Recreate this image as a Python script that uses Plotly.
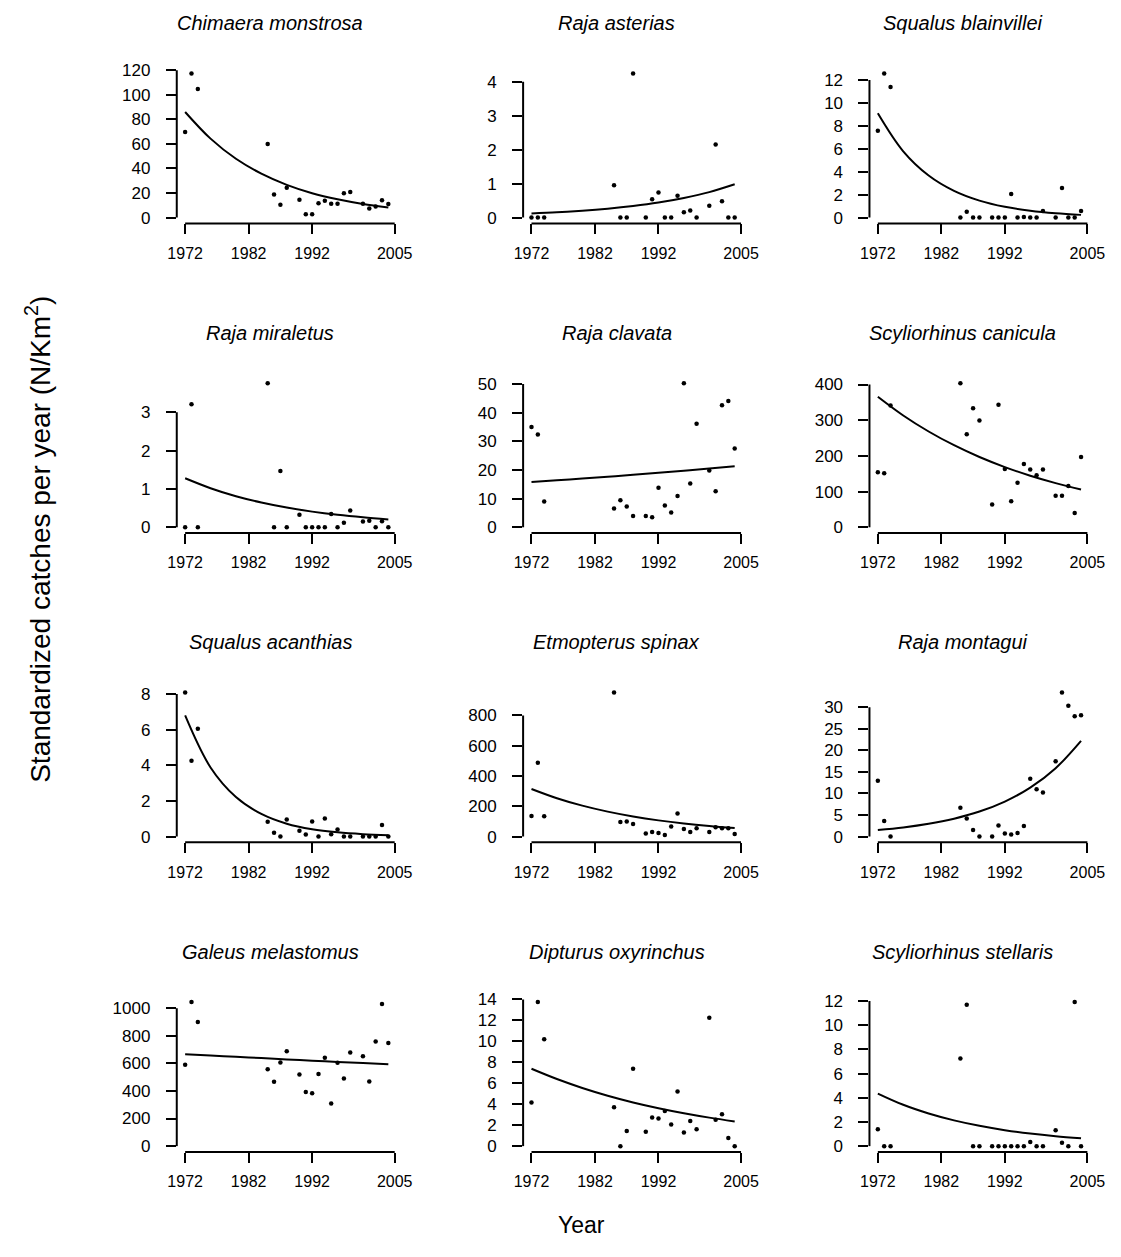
import plotly.graph_objects as go

# Survey years sampled (same for every species)
years = [1972, 1973, 1974, 1985, 1986, 1987, 1988, 1990, 1991, 1992, 1993,
         1994, 1995, 1996, 1997, 1998, 2000, 2001, 2002, 2003, 2004]
# Years at which the fitted trend is tabulated
fit_years = [1972, 1976, 1980, 1984, 1988, 1992, 1996, 2000, 2004]
x_ticks = [1972, 1982, 1992, 2005]
x_lim = [1972, 2005]

# Standardized catches (N/Km2) per species
chimaera_monstrosa = [69.6, 117.3, 104.7, 60.0, 18.8, 10.4, 24.4, 14.5, 2.7, 2.7, 11.8,
                      13.7, 11.3, 11.3, 19.8, 20.9, 11.3, 7.5, 9.1, 14.2, 11.0]
raja_asterias = [0, 0, 0, 0.95, 0, 0, 4.24, 0, 0.54, 0.74, 0,
                 0, 0.64, 0.155, 0.21, 0, 0.35, 2.15, 0.48, 0, 0]
squalus_blainvillei = [7.58, 12.57, 11.4, 0, 0.52, 0, 0, 0, 0, 0, 2.07,
                       0, 0.05, 0, 0, 0.57, 0, 2.58, 0, 0, 0.57]
raja_miraletus = [0, 3.21, 0, 3.76, 0, 1.47, 0, 0.33, 0, 0, 0,
                  0, 0.35, 0, 0.12, 0.44, 0.15, 0.17, 0, 0.155, 0]
raja_clavata = [35.0, 32.4, 9.0, 6.6, 9.4, 7.3, 3.9, 3.9, 3.5, 13.8, 7.6,
                5.2, 10.9, 50.3, 15.3, 36.1, 19.8, 12.6, 42.6, 44.1, 27.5]
scyliorhinus_canicula = [154, 151.5, 341, 403.7, 261, 333.5, 299, 63.7, 343.6, 163.5, 73,
                         124.7, 177, 161.7, 146, 161.7, 88.7, 88.7, 115.5, 39.7, 196.8]
squalus_acanthias = [8.09, 4.26, 6.05, 0.83, 0.22, 0, 0.96, 0.33, 0.11, 0.85, 0,
                     1.01, 0.13, 0.39, 0, 0, 0, 0, 0, 0.65, 0]
etmopterus_spinax = [136.6, 487.8, 134.4, 951.8, 95.4, 99.7, 82.4, 19.5, 30.4, 23.8, 10.8,
                     67.2, 151.8, 49.9, 30.4, 54.2, 30.4, 60.7, 54.2, 54.2, 17.3]
raja_montagui = [12.94, 3.58, 0, 6.7, 4.19, 1.52, 0, 0, 2.59, 0.69, 0.46,
                 0.84, 2.44, 13.4, 10.96, 10.2, 17.44, 33.4, 30.3, 27.9, 28.1]
galeus_melastomus = [590.5, 1045, 900, 557, 466.7, 607, 688, 519, 393, 383, 524,
                     640.5, 309.5, 604.8, 490.5, 678.6, 652.4, 469, 759.5, 1031, 747.6]
dipturus_oxyrinchus = [4.17, 13.75, 10.2, 3.70, 0, 1.44, 7.38, 1.38, 2.73, 2.64, 3.36,
                       2.07, 5.21, 1.29, 2.39, 1.60, 12.24, 2.51, 3.04, 0.78, 0]
scyliorhinus_stellaris = [1.39, 0, 0, 7.24, 11.7, 0, 0, 0, 0, 0, 0,
                          0, 0, 0.35, 0, 0, 1.31, 0.27, 0, 11.92, 0]

# Fitted trends at fit_years
chimaera_monstrosa_fit = [86.0, 64.3, 47.9, 35.8, 26.7, 19.9, 14.9, 11.1, 8.3]
raja_asterias_fit = [0.12, 0.156, 0.203, 0.264, 0.343, 0.445, 0.58, 0.75, 0.98]
squalus_blainvillei_fit = [9.1, 5.78, 3.67, 2.33, 1.48, 0.94, 0.60, 0.38, 0.24]
raja_miraletus_fit = [1.28, 1.02, 0.81, 0.646, 0.514, 0.409, 0.325, 0.259, 0.206]
raja_clavata_fit = [15.8, 16.4, 17.0, 17.6, 18.3, 19.0, 19.7, 20.5, 21.3]
scyliorhinus_canicula_fit = [365.8, 313.3, 268.4, 229.9, 196.9, 168.7, 144.5, 123.8, 106.0]
squalus_acanthias_fit = [6.8, 3.88, 2.22, 1.27, 0.72, 0.41, 0.236, 0.135, 0.077]
etmopterus_spinax_fit = [314.4, 253.4, 204.2, 164.6, 132.6, 106.9, 86.1, 69.4, 55.9]
raja_montagui_fit = [1.52, 2.12, 2.97, 4.15, 5.80, 8.11, 11.34, 15.85, 22.2]
galeus_melastomus_fit = [666.7, 657, 647.6, 638.3, 629, 620, 611, 602, 593]
dipturus_oxyrinchus_fit = [7.38, 6.40, 5.55, 4.81, 4.17, 3.62, 3.14, 2.72, 2.36]
scyliorhinus_stellaris_fit = [4.35, 3.42, 2.70, 2.13, 1.68, 1.32, 1.04, 0.82, 0.65]

# Y tick values per panel
chimaera_monstrosa_ticks = [0, 20, 40, 60, 80, 100, 120]
raja_asterias_ticks = [0, 1, 2, 3, 4]
squalus_blainvillei_ticks = [0, 2, 4, 6, 8, 10, 12]
raja_miraletus_ticks = [0, 1, 2, 3]
raja_clavata_ticks = [0, 10, 20, 30, 40, 50]
scyliorhinus_canicula_ticks = [0, 100, 200, 300, 400]
squalus_acanthias_ticks = [0, 2, 4, 6, 8]
etmopterus_spinax_ticks = [0, 200, 400, 600, 800]
raja_montagui_ticks = [0, 5, 10, 15, 20, 25, 30]
galeus_melastomus_ticks = [0, 200, 400, 600, 800, 1000]
dipturus_oxyrinchus_ticks = [0, 2, 4, 6, 8, 10, 12, 14]
scyliorhinus_stellaris_ticks = [0, 2, 4, 6, 8, 10, 12]

panels = [
    ("Chimaera monstrosa", chimaera_monstrosa, chimaera_monstrosa_fit, chimaera_monstrosa_ticks),
    ("Raja asterias", raja_asterias, raja_asterias_fit, raja_asterias_ticks),
    ("Squalus blainvillei", squalus_blainvillei, squalus_blainvillei_fit, squalus_blainvillei_ticks),
    ("Raja miraletus", raja_miraletus, raja_miraletus_fit, raja_miraletus_ticks),
    ("Raja clavata", raja_clavata, raja_clavata_fit, raja_clavata_ticks),
    ("Scyliorhinus canicula", scyliorhinus_canicula, scyliorhinus_canicula_fit, scyliorhinus_canicula_ticks),
    ("Squalus acanthias", squalus_acanthias, squalus_acanthias_fit, squalus_acanthias_ticks),
    ("Etmopterus spinax", etmopterus_spinax, etmopterus_spinax_fit, etmopterus_spinax_ticks),
    ("Raja montagui", raja_montagui, raja_montagui_fit, raja_montagui_ticks),
    ("Galeus melastomus", galeus_melastomus, galeus_melastomus_fit, galeus_melastomus_ticks),
    ("Dipturus oxyrinchus", dipturus_oxyrinchus, dipturus_oxyrinchus_fit, dipturus_oxyrinchus_ticks),
    ("Scyliorhinus stellaris", scyliorhinus_stellaris, scyliorhinus_stellaris_fit, scyliorhinus_stellaris_ticks),
]

W, H = 1121, 1257
FONT = "Liberation Sans, Arial, sans-serif"
# plot-region edges in pixels (left, right) per column and (top, bottom) per row
COL_X = [(170.5, 400.5), (522.5, 752.5), (874.5, 1104.5)]
ROW_Y = [(61.3, 218.3), (373.7, 530.7), (685.7, 842.7), (998.0, 1155.0)]

fig = go.Figure()
shapes, annotations = [], []
layout_axes = {}

xpad = 0.04 * (x_lim[1] - x_lim[0])
for i, (name, obs, fit, yt) in enumerate(panels):
    r, c = divmod(i, 3)
    suffix = "" if i == 0 else str(i + 1)
    xa, ya = "x" + suffix, "y" + suffix
    fig.add_trace(go.Scatter(x=years, y=obs, mode="markers",
                             marker=dict(color="black", size=4.5, symbol="circle"),
                             xaxis=xa, yaxis=ya, showlegend=False, hoverinfo="x+y"))
    fig.add_trace(go.Scatter(x=fit_years, y=fit, mode="lines",
                             line=dict(color="black", width=2, shape="spline"),
                             xaxis=xa, yaxis=ya, showlegend=False))
    ymax = max(obs)
    x0, x1 = COL_X[c]
    y0, y1 = ROW_Y[r]
    layout_axes["xaxis" + suffix] = dict(
        domain=[x0 / W, x1 / W], range=[x_lim[0] - xpad, x_lim[1] + xpad],
        tickvals=x_ticks, ticks="outside", ticklen=10, tickwidth=2, tickcolor="black",
        showgrid=False, zeroline=False, showline=False, anchor=ya,
        tickfont=dict(family=FONT, size=16, color="black"), ticklabelstandoff=5)
    layout_axes["yaxis" + suffix] = dict(
        domain=[1 - y1 / H, 1 - y0 / H], range=[-0.04 * ymax, 1.04 * ymax],
        tickvals=yt, ticks="outside", ticklen=10, tickwidth=2, tickcolor="black",
        showgrid=False, zeroline=False, showline=False, anchor=xa,
        tickfont=dict(family=FONT, size=17, color="black"), ticklabelstandoff=12)
    # axis lines spanning first to last tick
    shapes.append(dict(type="line", xref=xa + " domain", yref=ya, x0=0, x1=0,
                       y0=yt[0], y1=yt[-1], line=dict(color="black", width=2)))
    shapes.append(dict(type="line", xref=xa, yref=ya + " domain", x0=x_ticks[0], x1=x_ticks[-1],
                       y0=0, y1=0, line=dict(color="black", width=2)))
    annotations.append(dict(text="<i>" + name + "</i>", xref="paper", yref="paper",
                            x=((x0 + x1) / 2 - 20) / W, y=1 - (y0 - 45) / H,
                            xanchor="center", yanchor="middle", showarrow=False,
                            font=dict(family=FONT, size=20, color="black")))

annotations.append(dict(text="Year", xref="paper", yref="paper", x=582 / W, y=1 - 1229 / H,
                        xanchor="center", yanchor="middle", showarrow=False,
                        font=dict(family=FONT, size=23, color="black")))
annotations.append(dict(text="Standardized catches per year (N/Km<sup>2</sup>)", xref="paper",
                        yref="paper", x=30 / W, y=1 - 537 / H, textangle=-90,
                        xanchor="center", yanchor="middle", showarrow=False,
                        font=dict(family=FONT, size=28, color="black")))

fig.update_layout(width=W, height=H, margin=dict(l=0, r=0, t=0, b=0),
                  paper_bgcolor="white", plot_bgcolor="white",
                  shapes=shapes, annotations=annotations, **layout_axes)

fig.write_html("out.html")
